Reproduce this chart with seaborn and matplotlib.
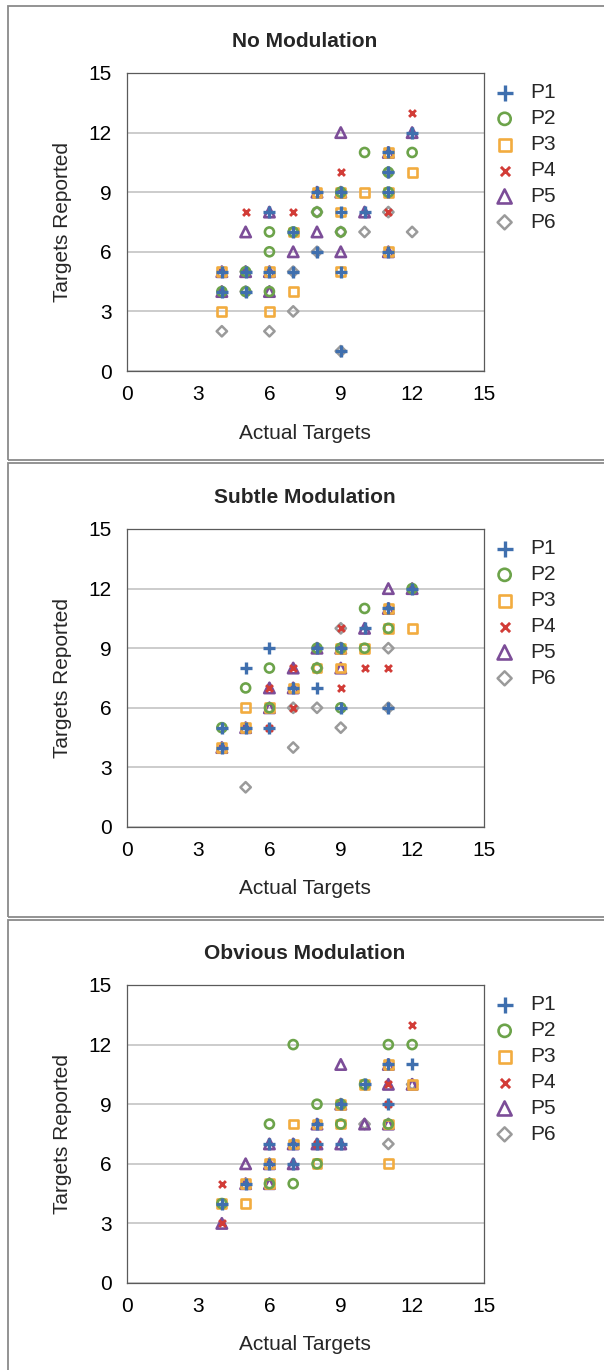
import matplotlib
matplotlib.use('Agg')
import matplotlib.pyplot as plt
import seaborn as sns
from matplotlib.patches import Rectangle

sns.set_style('white')
plt.rcParams['font.family'] = ['Liberation Sans', 'DejaVu Sans']

titles = ['No Modulation', 'Subtle Modulation', 'Obvious Modulation']
series = ['P1', 'P2', 'P3', 'P4', 'P5', 'P6']
ticks = [0, 3, 6, 9, 12, 15]

# ---- No Modulation: (actual, reported) ----
nm_P1 = [(12, 12), (11, 11), (11, 10), (8, 9), (9, 9), (11, 9), (6, 8), (9, 8), (10, 8), (7, 7),
         (8, 6), (11, 6), (4, 5), (5, 5), (6, 5), (7, 5), (9, 5), (4, 4), (5, 4), (9, 1)]
nm_P2 = [(10, 11), (12, 11), (11, 10), (9, 9), (11, 9), (8, 8), (6, 7), (7, 7), (9, 7), (6, 6),
         (5, 5), (4, 4), (5, 4), (6, 4)]
nm_P3 = [(11, 11), (12, 10), (8, 9), (9, 9), (10, 9), (11, 9), (9, 8), (7, 7), (11, 6), (4, 5),
         (6, 5), (9, 5), (7, 4), (4, 3), (6, 3)]
nm_P4 = [(12, 13), (9, 10), (5, 8), (7, 8), (11, 8)]
nm_P5 = [(9, 12), (12, 12), (11, 11), (8, 9), (9, 9), (6, 8), (10, 8), (5, 7), (8, 7), (7, 6),
         (9, 6), (11, 6), (4, 5), (5, 5), (6, 5), (4, 4), (6, 4)]
nm_P6 = [(11, 10), (8, 8), (11, 8), (9, 7), (10, 7), (12, 7), (8, 6), (5, 5), (7, 5), (5, 4),
         (7, 3), (4, 2), (6, 2), (9, 1)]

# ---- Subtle Modulation ----
sm_P1 = [(12, 12), (11, 11), (10, 10), (6, 9), (8, 9), (9, 9), (5, 8), (7, 7), (8, 7), (9, 6),
         (11, 6), (4, 5), (5, 5), (6, 5), (4, 4)]
sm_P2 = [(12, 12), (10, 11), (11, 10), (8, 9), (9, 9), (10, 9), (6, 8), (8, 8), (5, 7), (6, 6),
         (9, 6), (4, 5)]
sm_P3 = [(11, 11), (11, 10), (12, 10), (9, 9), (10, 9), (8, 8), (9, 8), (7, 7), (5, 6), (6, 6),
         (5, 5), (4, 4)]
sm_P4 = [(9, 10), (7, 8), (10, 8), (11, 8), (6, 7), (9, 7), (7, 6), (6, 5)]
sm_P5 = [(11, 12), (12, 12), (11, 11), (10, 10), (8, 9), (9, 9), (7, 8), (9, 8), (6, 7), (7, 7),
         (6, 6), (5, 5), (4, 4)]
sm_P6 = [(9, 10), (11, 9), (8, 8), (7, 6), (8, 6), (11, 6), (9, 5), (7, 4), (5, 2)]

# ---- Obvious Modulation ----
om_P1 = [(11, 11), (12, 11), (10, 10), (9, 9), (11, 9), (8, 8), (6, 7), (7, 7), (8, 7), (9, 7),
         (6, 6), (7, 6), (5, 5), (4, 4)]
om_P2 = [(7, 12), (11, 12), (12, 12), (10, 10), (8, 9), (9, 9), (6, 8), (9, 8), (11, 8), (8, 6),
         (6, 5), (7, 5), (4, 4)]
om_P3 = [(11, 11), (10, 10), (12, 10), (9, 9), (7, 8), (8, 8), (9, 8), (11, 8), (7, 7), (6, 6),
         (8, 6), (11, 6), (5, 5), (6, 5), (4, 4), (5, 4)]
om_P4 = [(12, 13), (11, 10), (11, 9), (8, 7), (4, 5), (4, 3)]
om_P5 = [(9, 11), (11, 11), (11, 10), (12, 10), (9, 9), (8, 8), (10, 8), (11, 8), (6, 7), (7, 7),
         (8, 7), (9, 7), (5, 6), (6, 6), (7, 6), (5, 5), (6, 5), (4, 3)]
om_P6 = [(12, 10), (10, 8), (11, 7)]

panels = [
    [nm_P1, nm_P2, nm_P3, nm_P4, nm_P5, nm_P6],
    [sm_P1, sm_P2, sm_P3, sm_P4, sm_P5, sm_P6],
    [om_P1, om_P2, om_P3, om_P4, om_P5, om_P6],
]

colors = ['#3f6fae', '#6ca34a', '#f2ac3f', '#d23c37', '#7c4d98', '#9a9a9a']
markers = ['plus', 'o', 's', 'x', '^', 'D']
mstyle = {
    'plus': dict(marker='+', s=70, linewidth=2.4, hollow=False),
    'o': dict(marker='o', s=42, linewidth=1.9, hollow=True),
    's': dict(marker='s', s=40, linewidth=1.9, hollow=True),
    'x': dict(marker='x', s=24, linewidth=2.1, hollow=False),
    '^': dict(marker='^', s=56, linewidth=1.9, hollow=True),
    'D': dict(marker='D', s=28, linewidth=1.8, hollow=True),
}

W, H = 604, 1370
fig = plt.figure(figsize=(W / 100, H / 100), dpi=100)

AX_L, AX_W = 126.7, 356.8
AX_BOT, AX_H = 371.0, 298.0
STEP = 456

for k in range(3):
    off = STEP * k
    # chart border
    top = 6 + 457 * k
    fig.patches.append(Rectangle((8 / W, 1 - (top + 454) / H), (W + 10) / W, 454 / H,
                                 transform=fig.transFigure, fill=False,
                                 edgecolor='#8a8a8a', linewidth=1.3, zorder=0))
    ax = fig.add_axes([AX_L / W, 1 - (AX_BOT + off) / H, AX_W / W, AX_H / H])
    ax.set_facecolor('white')

    # draw P6 first, P1 last (on top)
    for i in reversed(range(6)):
        pts = panels[k][i]
        xs = [p[0] for p in pts]
        ys = [p[1] for p in pts]
        st = mstyle[markers[i]]
        kw = dict(marker=st['marker'], s=st['s'], linewidth=st['linewidth'],
                  color=colors[i], zorder=3 + (6 - i), legend=False, label=series[i])
        if st['hollow']:
            kw['facecolor'] = 'none'
            kw['edgecolor'] = colors[i]
        sns.scatterplot(x=xs, y=ys, ax=ax, **kw)

    ax.set_xlim(0, 15)
    ax.set_ylim(0, 15)
    ax.set_xticks(ticks)
    ax.set_yticks(ticks)
    ax.yaxis.grid(True, color='#c4c4c4', linewidth=1.2, zorder=1)
    ax.xaxis.grid(False)
    ax.set_axisbelow(True)
    for sp in ax.spines.values():
        sp.set_color('#5a5a5a')
        sp.set_linewidth(0.9)
    ax.tick_params(axis='both', length=0, labelsize=15, colors='black')
    ax.tick_params(axis='y', pad=11)
    ax.tick_params(axis='x', pad=10)

    ax.set_title(titles[k], fontsize=15, fontweight='bold', pad=19)
    ax.set_xlabel('Actual Targets', fontsize=15)
    ax.set_ylabel('Targets Reported', fontsize=15)
    ax.xaxis.set_label_coords(0.5, -(433 - AX_BOT) / AX_H)
    ax.xaxis.label.set_verticalalignment('center')
    ax.yaxis.set_label_coords(-(AX_L - 63) / AX_W, 0.5)
    ax.yaxis.label.set_verticalalignment('center')

    handles, labels = ax.get_legend_handles_labels()
    order = [labels.index(s) for s in series]
    ax.legend([handles[j] for j in order], series, loc='upper left',
              bbox_to_anchor=(1.03, 0.965), frameon=False, fontsize=15,
              labelspacing=0.33, handlelength=1.0, handletextpad=0.75,
              borderaxespad=0, borderpad=0, markerscale=1.35)

fig.savefig('out.png', dpi=100)
